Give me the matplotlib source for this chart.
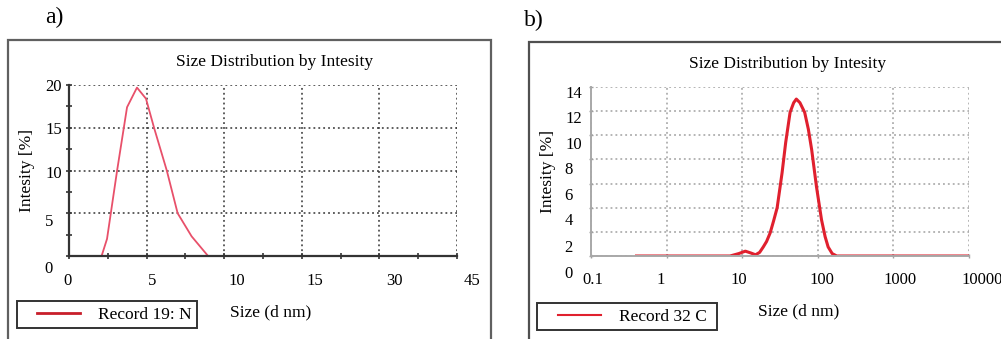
import matplotlib
matplotlib.use("Agg")
import matplotlib.pyplot as plt
from matplotlib.lines import Line2D
from matplotlib.patches import Rectangle
from matplotlib.legend_handler import HandlerLine2D
from matplotlib.transforms import ScaledTranslation
import numpy as np

plt.rcParams["font.family"] = ["Liberation Serif", "DejaVu Serif"]

# panel a: position on the (odd) x axis vs intensity
size_a = [0, 1.2, 2.1, 2.45, 3.1, 3.74, 4.38, 4.96, 5.48, 6.3, 7.0, 7.9, 8.96, 25]
intensity_a = [0, 0, 0, 2.0, 10.0, 17.4, 19.7, 18.4, 15.0, 10.0, 5.0, 2.3, 0, 0]
xticks_a = [0, 5, 10, 15, 20, 25]
xticklabels_a = ["0", "5", "10", "15", "30", "45"]
yticks_a = [0, 5, 10, 15, 20]

# panel b: size in d.nm (log axis) vs intensity
size_b = [0.4, 1, 3, 6.9, 9, 11, 13, 15, 17, 19, 21, 23.4, 26, 29, 33.7, 37.6, 43, 48,
          52, 58, 67, 75, 83, 96, 112, 125, 137, 155, 178, 300, 1000, 10000]
intensity_b = [0, 0, 0, 0, 0.2, 0.4, 0.25, 0.1, 0.3, 0.75, 1.2, 1.9, 2.9, 4.0, 6.9, 9.4,
               11.9, 12.7, 13.0, 12.7, 11.9, 10.5, 8.8, 5.75, 3.0, 1.6, 0.75, 0.2, 0,
               0, 0, 0]
xticks_b = [0.1, 1, 10, 100, 1000, 10000]
xticklabels_b = ["0.1", "1", "10", "100", "1000", "10000"]
yticks_b = [0, 2, 4, 6, 8, 10, 12, 14]

W, H = 1001, 339
fig = plt.figure(figsize=(W / 100, H / 100), dpi=100)


def fx(px):
    return px / W


def fy(py):
    return 1 - py / H


def nudge(labels, shifts):
    # the scanned chart has its tick labels a little off the grid lines (pixels)
    for lab, (dx, dy) in zip(labels, shifts):
        off = ScaledTranslation(dx / 100, -dy / 100, fig.dpi_scale_trans)
        lab.set_transform(lab.get_transform() + off)


# outer frames
fig.patches.append(Rectangle((fx(8), -0.05), fx(483), fy(40) + 0.05, transform=fig.transFigure,
                             fill=False, edgecolor="#606060", lw=1.6))
fig.patches.append(Rectangle((fx(529), -0.05), fx(480), fy(42) + 0.05, transform=fig.transFigure,
                             fill=False, edgecolor="#505050", lw=1.6))

fig.text(fx(45), fy(17), "a)", fontsize=17, va="center")
fig.text(fx(524), fy(20), "b)", fontsize=17, va="center")

# ---- panel a
ax = fig.add_axes([fx(69), fy(256), fx(388), fy(85) - fy(256)])
ax.plot(size_a, intensity_a, color="#e8506a", lw=1.3, clip_on=False)
ax.set_xlim(0, 25)
ax.set_ylim(0, 20)
ax.set_xticks(xticks_a)
ax.set_xticklabels(xticklabels_a)
ax.set_yticks(yticks_a)
ax.set_xticks(np.arange(2.5, 25, 5), minor=True)
ax.set_yticks(np.arange(2.5, 20, 5), minor=True)
ax.grid(True, which="major", color="#333333", ls=(0, (1.2, 2)), lw=1.1)
for s in ["top", "right"]:
    ax.spines[s].set_visible(False)
for s in ["left", "bottom"]:
    ax.spines[s].set_color("#333333")
    ax.spines[s].set_linewidth(1.6)
ax.tick_params(which="both", direction="inout", length=4, width=1.2, color="#333333",
               labelsize=12)
ax.tick_params(axis="x", pad=10)
ax.tick_params(axis="y", pad=3)
nudge(ax.get_xticklabels(), [(-2, 0), (6, 0), (13, 0), (13, 0), (15, 0), (15, 0)])
nudge(ax.get_yticklabels(), [(-9, 11), (-9, 7), (0, 2), (0, 0), (0, 0)])
ax.set_title("Size Distribution by Intesity", fontsize=12.5, pad=14, x=0.53)
ax.set_ylabel("Intesity [%]", fontsize=12.5, labelpad=7)
ax.set_xlabel("Size (d nm)", fontsize=12.5, labelpad=11, x=0.52)
ax.legend([Line2D([], [], color="#c81e2a", lw=2)], ["Record 19: N"],
          handler_map={Line2D: HandlerLine2D(xpad=0.86)},
          loc="lower left", bbox_to_anchor=(fx(17), fy(328), fx(180), fy(298) - fy(328)),
          bbox_transform=fig.transFigure, mode="expand", fancybox=False, framealpha=1,
          edgecolor="#333333", fontsize=12.5, handlelength=3.34, borderaxespad=0,
          borderpad=0.3, handletextpad=1.0)
ax.get_legend().get_frame().set_linewidth(1.4)

# ---- panel b
bx = fig.add_axes([fx(591), fy(256), fx(378), fy(87) - fy(256)])
bx.plot(size_b, intensity_b, color="#e0202e", lw=2.2)
bx.set_xscale("log")
bx.set_xlim(0.1, 10000)
bx.set_ylim(0, 14)
bx.set_xticks(xticks_b)
bx.set_xticklabels(xticklabels_b)
bx.set_yticks(yticks_b)
bx.minorticks_off()
bx.grid(True, which="major", color="#a0a0a0", ls=(0, (1.2, 2)), lw=1.1)
for s in ["top", "right"]:
    bx.spines[s].set_visible(False)
for s in ["left", "bottom"]:
    bx.spines[s].set_color("#a8a8a8")
    bx.spines[s].set_linewidth(1.4)
bx.tick_params(which="both", direction="inout", length=3, width=1, color="#a0a0a0",
               labelsize=12)
bx.tick_params(axis="x", pad=10)
bx.tick_params(axis="y", pad=5)
nudge(bx.get_xticklabels(), [(2, 0), (-6, 0), (-3, 0), (4, 0), (7, 0), (13, 0)])
nudge(bx.get_yticklabels(), [(-9, 16), (-9, 14), (-9, 11), (-9, 10), (-9, 9),
                             (0, 8), (0, 6), (0, 5)])
bx.set_title("Size Distribution by Intesity", fontsize=12.5, pad=14, x=0.52)
bx.set_ylabel("Intesity [%]", fontsize=12.5, labelpad=6)
bx.set_xlabel("Size (d nm)", fontsize=12.5, labelpad=11, x=0.55)
bx.legend([Line2D([], [], color="#e0202e", lw=1.5)], ["Record 32 C"],
          handler_map={Line2D: HandlerLine2D(xpad=0.92)},
          loc="lower left", bbox_to_anchor=(fx(537), fy(330), fx(180), fy(303) - fy(330)),
          bbox_transform=fig.transFigure, mode="expand", fancybox=False, framealpha=1,
          edgecolor="#333333", fontsize=12.5, handlelength=3.4, borderaxespad=0,
          borderpad=0.3, handletextpad=1.0)
bx.get_legend().get_frame().set_linewidth(1.4)

fig.savefig("out.png", dpi=100)
